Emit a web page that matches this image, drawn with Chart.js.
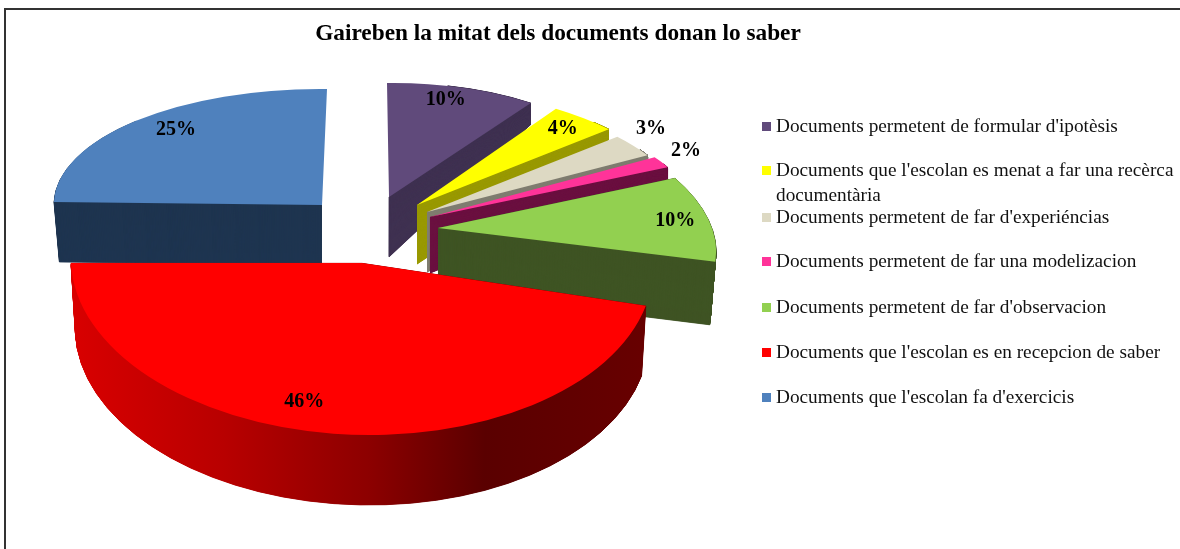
<!DOCTYPE html>
<html>
<head>
<meta charset="utf-8">
<script src="https://cdn.jsdelivr.net/npm/chart.js@4"></script>
<style>
    html, body { margin: 0; padding: 0; background: #fff; overflow: hidden; width: 1180px; height: 549px; }
    #page { position: absolute; left: 0; top: 0; width: 1180px; height: 549px; overflow: hidden; filter: blur(0.45px); }
    #frame { position: absolute; left: 4px; top: 8px; width: 1300px; height: 700px; border: 2px solid #333; }
    #timeChart { position: absolute; left: 0; top: 0; }
    #legend { position: absolute; left: 0; top: 0; font: 19.3px "Liberation Serif", serif; color: #111; }
    .row { position: absolute; left: 776px; white-space: nowrap; line-height: 25px; }
    .row i { position: absolute; left: -14px; top: 9px; width: 9px; height: 9px; }
</style>
</head>
<body>
<div id="page">
<div id="frame"></div>
<canvas id="timeChart" width="1116" height="549"></canvas>
<div id="legend"></div>
</div>
<script>
const categories = [
    "Documents permetent de formular d'ipotèsis",
    "Documents que l'escolan es menat a far una recèrca documentària",
    "Documents permetent de far d'experiéncias",
    "Documents permetent de far una modelizacion",
    "Documents permetent de far d'observacion",
    "Documents que l'escolan es en recepcion de saber",
    "Documents que l'escolan fa d'exercicis"
];
const values = [10, 4, 3, 2, 10, 46, 25];
const titleText = 'Gaireben la mitat dels documents donan lo saber';

const topColors = ['#604a7b', '#ffff00', '#ddd9c3', '#ff3399', '#92d050', '#ff0000', '#4f81bd'];
const wallColors = ['#3f3151', '#999900', '#7f7d70', '#6b1040', '#3f5424', null, '#1f3550'];

// fake 3D: each slice gets its own frame, A apex, U and V the axes of its ellipse
// h wall height, wx/wy how much the lower rim grows, from = share of the slice that gets a wall
const frames = [
    { A: [389, 197], U: [244, -3], V: [-2, -114], h: 60, wx: 1, wy: 1.41, from: 0.6, label: [0.24, 0.86] },
    { A: [417, 205], U: [268, 0], V: [-23, -119], h: 59, wx: 1, wy: 1.64, from: 0.3, label: [0.6, 0.655] },
    { A: [427, 212], U: [261, 0], V: [-17, -118], h: 60, wx: 1, wy: 1.98, from: 0.25, label: [0.905, 0.72] },
    { A: [430, 217], U: [253, -16], V: [6, -95], h: 56, wx: 1, wy: 1.88, from: 0.3, label: [0.999, 0.55] },
    { A: [438, 228], U: [274, 0], V: [-48, -136], h: 63, wx: 0.98, wy: 1, from: 1, label: [0.877, 0.066] },
    { A: [362, 263], U: [291, 0], V: [-8, -172], h: 70, wx: 0.985, wy: 1, from: 1, label: [-0.22, -0.797] },
    { A: [322, 205], U: [268, 3], V: [5, -116], h: 60, wx: 0.98, wy: 1, from: 0.5, startSide: true, label: [-0.557, 0.65] }
];
const drawOrder = [0, 1, 2, 3, 6, 4, 5];

function applyFrame(ctx, arc, ax, ay, U, V) {
    const R = arc.outerRadius;
    ctx.translate(ax, ay);
    ctx.transform(U[0] / R, U[1] / R, -V[0] / R, -V[1] / R, 0, 0);
    ctx.translate(-arc.x, -arc.y);
}

function redWall(ctx, arc) {
    const g = ctx.createLinearGradient(arc.x - arc.outerRadius, 0, arc.x + arc.outerRadius, 0);
    g.addColorStop(0, '#d80000');
    g.addColorStop(0.25, '#b80000');
    g.addColorStop(0.5, '#8c0000');
    g.addColorStop(0.7, '#5a0000');
    g.addColorStop(1, '#680000');
    return g;
}

function drawSlice(ctx, arc, i) {
    const f = frames[i];
    const base = arc.options;
    const start = arc.startAngle, end = arc.endAngle, circ = arc.circumference;
    const wall = wallColors[i] || redWall(ctx, arc);

    // wall first, lower rim up to the top face
    arc.options = Object.assign({}, base, { backgroundColor: wall, borderColor: wall, borderWidth: 0.8 });
    arc.circumference = circ * f.from;
    if (f.startSide) {
        arc.endAngle = start + circ * f.from;
    } else {
        arc.startAngle = start + circ * (1 - f.from);
    }
    const steps = Math.ceil(f.h * 3);
    for (let s = steps; s > 0; s--) {
        const t = s / steps;
        const kx = 1 + (f.wx - 1) * t, ky = 1 + (f.wy - 1) * t;
        ctx.save();
        applyFrame(ctx, arc, f.A[0], f.A[1] + f.h * t,
            [f.U[0] * kx, f.U[1] * ky], [f.V[0] * kx, f.V[1] * ky]);
        arc.draw(ctx);
        ctx.restore();
    }
    arc.startAngle = start;
    arc.endAngle = end;
    arc.circumference = circ;
    arc.options = base;

    ctx.save();
    applyFrame(ctx, arc, f.A[0], f.A[1], f.U, f.V);
    arc.draw(ctx);
    ctx.restore();
}

const pie3d = {
    id: 'pie3d',
    beforeDatasetsDraw(chart) {
        const arcs = chart.getDatasetMeta(0).data;
        drawOrder.forEach(i => drawSlice(chart.ctx, arcs[i], i));
        const ctx = chart.ctx;
        ctx.save();
        ctx.font = 'bold 20px "Liberation Serif", serif';
        ctx.fillStyle = '#000';
        ctx.textAlign = 'center';
        ctx.textBaseline = 'middle';
        values.forEach((v, i) => {
            const f = frames[i];
            const x = f.A[0] + f.label[0] * f.U[0] + f.label[1] * f.V[0];
            const y = f.A[1] + f.label[0] * f.U[1] + f.label[1] * f.V[1];
            ctx.fillText(v + '%', x, y + 2);
        });
        ctx.restore();
        return false;
    }
};

new Chart(document.getElementById('timeChart').getContext('2d'), {
    type: 'pie',
    data: {
        labels: categories,
        datasets: [{ data: values, backgroundColor: topColors, borderWidth: 0 }]
    },
    options: {
        responsive: false,
        animation: false,
        rotation: 0,
        plugins: {
            legend: { display: false },
            tooltip: { enabled: false },
            title: {
                display: true,
                text: titleText,
                color: '#000',
                font: { family: '"Liberation Serif", serif', size: 23.3, weight: 'bold' },
                padding: { top: 20, bottom: 10 }
            }
        }
    },
    plugins: [pie3d]
});

// legend as html, the long row wraps by hand
const legendTops = [113, 157, 204, 248, 294, 339, 384];
const legendEl = document.getElementById('legend');
categories.forEach((c, i) => {
    const row = document.createElement('div');
    row.className = 'row';
    row.style.top = legendTops[i] + 'px';
    const swatch = document.createElement('i');
    swatch.style.background = topColors[i];
    row.appendChild(swatch);
    const split = c.indexOf(' documentària');
    if (split > 0) {
        row.appendChild(document.createTextNode(c.slice(0, split)));
        row.appendChild(document.createElement('br'));
        row.appendChild(document.createTextNode(c.slice(split + 1)));
    } else {
        row.appendChild(document.createTextNode(c));
    }
    legendEl.appendChild(row);
});
</script>
</body>
</html>
